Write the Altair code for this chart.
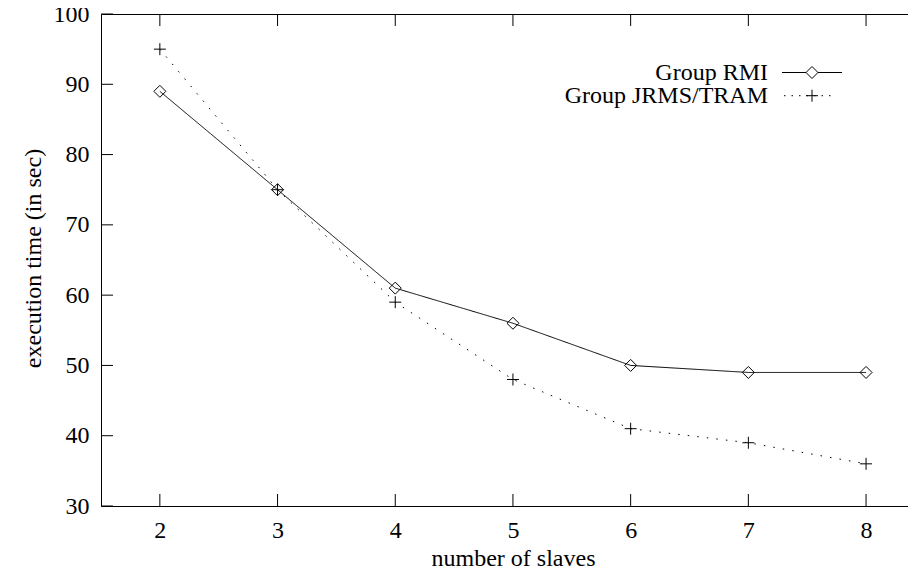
import altair as alt
import pandas as pd

# ---- data ----
slaves = [2, 3, 4, 5, 6, 7, 8]
rmi_times = [89, 75, 61, 56, 50, 49, 49]
jrms_times = [95, 75, 59, 48, 41, 39, 36]
series_names = ["Group RMI", "Group JRMS/TRAM"]
x_ticks = [2, 3, 4, 5, 6, 7, 8]
y_ticks = [30, 40, 50, 60, 70, 80, 90, 100]

df = pd.DataFrame({
    "n": slaves + slaves,
    "t": rmi_times + jrms_times,
    "series": [series_names[0]] * len(slaves) + [series_names[1]] * len(slaves),
})
leg_df = pd.DataFrame({"series": series_names})
xt = pd.DataFrame({"v": x_ticks})
yt = pd.DataFrame({"v": y_ticks})

# ---- layout / style ----
W, H = 807, 492          # visible part of the plot area (frame continues off-page)
PX_PER_UNIT = 117.7
FONT = "Liberation Serif, Times New Roman, DejaVu Serif, serif"
FS = 24
TICK = 12
DOTS = [1.5, 8.1]

# key layout (pixels inside the plot area)
KEY_TEXT_RIGHT = 667
KEY_ROW_Y = [58.5, 81.7]
KEY_SAMPLE_CENTER = 711

xs = alt.Scale(domain=[1.5, 1.5 + W / PX_PER_UNIT], nice=False, zero=False)
ys = alt.Scale(domain=[30, 100], nice=False, zero=False)

PLUS = "M-1,0L1,0M0,-1L0,1"

bottom_axis = alt.Axis(
    orient="bottom", values=x_ticks, ticks=False, tickSize=0, grid=False,
    domain=True, domainColor="black", domainWidth=1,
    labelFont=FONT, labelFontSize=FS, labelColor="black",
    labelBaseline="alphabetic", labelPadding=31, labelAlign="center",
    title="number of slaves", titleFont=FONT, titleFontSize=FS,
    titleFontWeight="normal", titleColor="black",
    titleX=412, titleY=59, titleBaseline="alphabetic", titleAlign="center",
)
left_axis = alt.Axis(
    orient="left", values=y_ticks, ticks=False, tickSize=0, grid=False,
    domain=True, domainColor="black", domainWidth=1,
    labelFont=FONT, labelFontSize=FS, labelColor="black",
    labelPadding=12, labelBaseline="middle",
    title="execution time (in sec)", titleFont=FONT, titleFontSize=FS,
    titleFontWeight="normal", titleColor="black",
    titleX=-61, titleY=244, titleAngle=270, titleBaseline="alphabetic",
    titleAlign="center",
)
top_axis = alt.Axis(
    orient="top", labels=False, ticks=False, tickSize=0, grid=False,
    domain=True, domainColor="black", domainWidth=1, title=None,
)

lines = alt.Chart(df).mark_line(color="black", strokeWidth=1).encode(
    x=alt.X("n:Q", scale=xs, axis=bottom_axis),
    y=alt.Y("t:Q", scale=ys, axis=left_axis),
    strokeDash=alt.StrokeDash(
        "series:N",
        scale=alt.Scale(domain=series_names, range=[[1, 0], DOTS]),
        legend=None,
    ),
    detail="series:N",
)

pts_rmi = alt.Chart(df).transform_filter(
    alt.datum.series == series_names[0]
).mark_point(shape="diamond", size=144, filled=False, color="black",
             strokeWidth=1, opacity=1).encode(
    x=alt.X("n:Q", scale=xs, axis=None),
    y=alt.Y("t:Q", scale=ys, axis=None),
)

pts_jrms = alt.Chart(df).transform_filter(
    alt.datum.series == series_names[1]
).mark_point(shape=PLUS, size=144, filled=False, color="black",
             strokeWidth=1, opacity=1).encode(
    x=alt.X("n:Q", scale=xs, axis=None),
    y=alt.Y("t:Q", scale=ys, axis=None),
)

top_ticks = alt.Chart(xt).mark_rule(color="black", strokeWidth=1).encode(
    x=alt.X("v:Q", scale=xs, axis=top_axis),
    y=alt.value(0), y2=alt.value(TICK),
)
bottom_ticks = alt.Chart(xt).mark_rule(color="black", strokeWidth=1).encode(
    x=alt.X("v:Q", scale=xs, axis=None),
    y=alt.value(H), y2=alt.value(H - TICK),
)
left_ticks = alt.Chart(yt).mark_rule(color="black", strokeWidth=1).encode(
    y=alt.Y("v:Q", scale=ys, axis=None),
    x=alt.value(0), x2=alt.value(TICK),
)

# ---- key (label on the left, line sample + marker on the right) ----
def key_row(i, dash, half_len, shape):
    base = alt.Chart(leg_df).transform_filter(
        alt.datum.series == series_names[i]
    )
    label = base.mark_text(
        align="right", baseline="middle", font=FONT, fontSize=FS,
        color="black",
    ).encode(
        text="series:N",
        x=alt.value(KEY_TEXT_RIGHT), y=alt.value(KEY_ROW_Y[i]),
    )
    sample = base.mark_rule(
        color="black", strokeWidth=1, strokeDash=dash,
    ).encode(
        x=alt.value(KEY_SAMPLE_CENTER - half_len[0]),
        x2=alt.value(KEY_SAMPLE_CENTER + half_len[1]),
        y=alt.value(KEY_ROW_Y[i]),
    )
    marker = base.mark_point(
        shape=shape, size=144, filled=False, color="black", strokeWidth=1,
        opacity=1, fill="white",
    ).encode(
        x=alt.value(KEY_SAMPLE_CENTER), y=alt.value(KEY_ROW_Y[i]),
    )
    return [label, sample, marker]


key_layers = key_row(0, [1, 0], (30, 30), "diamond") + \
    key_row(1, [1.5, 6], (28, 22), PLUS)

chart = alt.layer(
    lines, pts_rmi, pts_jrms, top_ticks, bottom_ticks, left_ticks,
    *key_layers,
).resolve_axis(x="independent", y="independent").properties(
    width=W, height=H,
    autosize=alt.AutoSizeParams(type="none"),
    padding={"left": 93, "top": 6, "right": 0, "bottom": 64},
    background="white",
).configure_view(strokeWidth=0)

chart.save("out.html", embed_options={"renderer": "svg", "actions": False})
